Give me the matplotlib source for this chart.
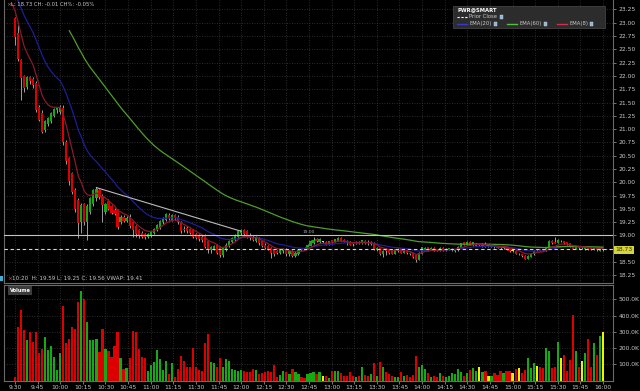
import numpy as np
import pandas as pd
import matplotlib
matplotlib.use('Agg')
import matplotlib.pyplot as plt
from matplotlib.lines import Line2D
from matplotlib.patches import Rectangle

# 2-minute bars, 9:30 -> 16:00
opens = [23.08, 22.80, 22.30, 21.99, 21.80, 21.98, 21.95, 21.87, 21.42, 21.30,
         20.98, 21.10, 21.15, 21.25, 21.35, 21.32, 21.40, 20.75, 20.45, 20.17,
         19.85, 19.66, 19.25, 19.60, 19.25, 19.45, 19.60, 19.70, 19.85, 19.75,
         19.45, 19.65, 19.55, 19.48, 19.47, 19.25, 19.35, 19.28, 19.35, 19.25,
         19.18, 19.10, 19.05, 19.02, 18.97, 19.00, 19.05, 19.10, 19.15, 19.25,
         19.30, 19.38, 19.30, 19.38, 19.35, 19.25, 19.12, 19.15, 19.12, 19.10,
         19.02, 19.00, 18.98, 19.00, 18.90, 18.72, 18.75, 18.82, 18.78, 18.63,
         18.72, 18.80, 18.88, 18.92, 18.98, 19.04, 19.10, 19.08, 19.00, 18.98,
         18.90, 18.95, 18.90, 18.82, 18.80, 18.76, 18.72, 18.70, 18.67, 18.70,
         18.74, 18.65, 18.70, 18.62, 18.66, 18.74, 18.76, 18.75, 18.81, 18.85,
         18.93, 18.88, 18.88, 18.88, 18.84, 18.91, 18.88, 18.90, 18.96, 18.92,
         18.90, 18.88, 18.87, 18.85, 18.88, 18.85, 18.90, 18.88, 18.84, 18.86,
         18.72, 18.76, 18.66, 18.74, 18.72, 18.71, 18.66, 18.70, 18.76, 18.68,
         18.72, 18.68, 18.67, 18.63, 18.54, 18.66, 18.72, 18.78, 18.73, 18.77,
         18.74, 18.71, 18.77, 18.72, 18.73, 18.72, 18.70, 18.72, 18.77, 18.87,
         18.83, 18.88, 18.82, 18.81, 18.82, 18.80, 18.84, 18.81, 18.79, 18.81,
         18.80, 18.80, 18.76, 18.79, 18.76, 18.71, 18.71, 18.65, 18.65, 18.62,
         18.56, 18.60, 18.65, 18.72, 18.74, 18.74, 18.72, 18.76, 18.90, 18.88,
         18.86, 18.89, 18.89, 18.87, 18.85, 18.82, 18.75, 18.79, 18.76, 18.74,
         18.78, 18.76, 18.73, 18.77, 18.71, 18.73]
highs = [23.10, 22.95, 22.32, 22.02, 22.00, 22.00, 21.98, 21.90, 21.45, 21.36,
         21.18, 21.22, 21.32, 21.40, 21.42, 21.46, 21.45, 20.80, 20.48, 20.20,
         19.90, 19.70, 19.62, 19.62, 19.60, 19.72, 19.88, 19.91, 19.88, 19.78,
         19.62, 19.68, 19.58, 19.52, 19.50, 19.38, 19.38, 19.36, 19.40, 19.28,
         19.20, 19.12, 19.08, 19.05, 19.05, 19.08, 19.15, 19.22, 19.30, 19.35,
         19.42, 19.42, 19.40, 19.40, 19.38, 19.28, 19.18, 19.18, 19.15, 19.12,
         19.05, 19.02, 19.00, 19.02, 18.92, 18.80, 18.82, 18.84, 18.80, 18.78,
         18.85, 18.92, 18.98, 19.02, 19.10, 19.12, 19.12, 19.10, 19.05, 19.00,
         18.99, 18.97, 18.92, 18.85, 18.82, 18.78, 18.74, 18.72, 18.74, 18.76,
         18.76, 18.72, 18.72, 18.70, 18.74, 18.76, 18.78, 18.84, 18.91, 18.97,
         18.95, 18.96, 18.90, 18.89, 18.90, 18.92, 18.94, 18.98, 18.97, 18.93,
         18.91, 18.89, 18.88, 18.89, 18.89, 18.92, 18.91, 18.91, 18.89, 18.87,
         18.78, 18.77, 18.72, 18.76, 18.74, 18.72, 18.75, 18.76, 18.77, 18.73,
         18.73, 18.69, 18.68, 18.64, 18.69, 18.79, 18.79, 18.79, 18.78, 18.78,
         18.75, 18.78, 18.78, 18.76, 18.77, 18.77, 18.75, 18.80, 18.86, 18.88,
         18.89, 18.89, 18.88, 18.86, 18.84, 18.85, 18.88, 18.83, 18.83, 18.82,
         18.81, 18.81, 18.81, 18.80, 18.77, 18.73, 18.72, 18.67, 18.66, 18.63,
         18.63, 18.67, 18.72, 18.74, 18.75, 18.75, 18.79, 18.91, 18.91, 18.98,
         18.93, 18.91, 18.90, 18.88, 18.86, 18.83, 18.80, 18.80, 18.78, 18.79,
         18.79, 18.77, 18.79, 18.78, 18.76, 18.75]
lows = [22.59, 22.28, 21.55, 21.70, 21.75, 21.85, 21.78, 21.33, 21.15, 20.92,
        20.95, 21.05, 21.12, 21.22, 21.30, 21.28, 20.70, 20.35, 19.95, 19.78,
        19.45, 18.95, 19.05, 19.20, 18.92, 19.40, 19.55, 19.65, 19.68, 19.25,
        19.40, 19.48, 19.40, 19.38, 19.12, 19.22, 19.25, 19.25, 19.15, 18.97,
        18.98, 18.96, 18.95, 18.94, 18.95, 18.98, 19.02, 19.08, 19.12, 19.22,
        19.28, 19.30, 19.28, 19.30, 19.22, 19.05, 19.06, 19.05, 19.02, 18.95,
        18.93, 18.90, 18.88, 18.76, 18.68, 18.68, 18.72, 18.66, 18.59, 18.60,
        18.70, 18.78, 18.85, 18.90, 18.96, 19.00, 19.00, 18.95, 18.92, 18.90,
        18.88, 18.82, 18.78, 18.74, 18.72, 18.57, 18.62, 18.66, 18.65, 18.68,
        18.62, 18.62, 18.60, 18.60, 18.64, 18.70, 18.72, 18.74, 18.80, 18.84,
        18.87, 18.86, 18.86, 18.82, 18.83, 18.86, 18.87, 18.89, 18.89, 18.87,
        18.82, 18.82, 18.81, 18.84, 18.84, 18.84, 18.84, 18.83, 18.83, 18.72,
        18.71, 18.63, 18.60, 18.64, 18.66, 18.65, 18.65, 18.69, 18.67, 18.67,
        18.66, 18.64, 18.58, 18.50, 18.53, 18.65, 18.71, 18.70, 18.72, 18.70,
        18.70, 18.70, 18.71, 18.71, 18.72, 18.70, 18.69, 18.71, 18.76, 18.82,
        18.82, 18.82, 18.81, 18.80, 18.80, 18.79, 18.79, 18.79, 18.78, 18.77,
        18.76, 18.75, 18.75, 18.73, 18.69, 18.69, 18.65, 18.63, 18.60, 18.55,
        18.55, 18.59, 18.64, 18.70, 18.70, 18.71, 18.71, 18.75, 18.84, 18.85,
        18.85, 18.87, 18.84, 18.83, 18.78, 18.74, 18.74, 18.75, 18.74, 18.73,
        18.72, 18.72, 18.72, 18.71, 18.70, 18.71]
closes = [22.74, 22.31, 21.97, 21.78, 21.98, 21.90, 21.82, 21.36, 21.17, 20.95,
          21.15, 21.20, 21.30, 21.38, 21.40, 21.42, 20.75, 20.40, 20.02, 19.82,
          19.50, 19.23, 19.58, 19.25, 19.55, 19.70, 19.85, 19.88, 19.72, 19.58,
          19.60, 19.50, 19.42, 19.40, 19.16, 19.35, 19.28, 19.33, 19.18, 19.10,
          19.02, 19.00, 18.98, 18.97, 19.02, 19.06, 19.12, 19.20, 19.28, 19.32,
          19.40, 19.32, 19.38, 19.33, 19.25, 19.08, 19.10, 19.08, 19.05, 18.98,
          18.96, 18.93, 18.92, 18.78, 18.72, 18.78, 18.80, 18.68, 18.63, 18.76,
          18.83, 18.90, 18.96, 19.00, 19.08, 19.10, 19.02, 18.98, 18.96, 18.92,
          18.97, 18.85, 18.80, 18.76, 18.74, 18.68, 18.65, 18.68, 18.72, 18.74,
          18.66, 18.70, 18.62, 18.68, 18.72, 18.72, 18.74, 18.82, 18.89, 18.91,
          18.89, 18.94, 18.88, 18.83, 18.89, 18.87, 18.93, 18.96, 18.90, 18.88,
          18.87, 18.83, 18.84, 18.88, 18.85, 18.91, 18.85, 18.86, 18.88, 18.74,
          18.76, 18.65, 18.71, 18.70, 18.68, 18.66, 18.74, 18.74, 18.68, 18.72,
          18.67, 18.66, 18.60, 18.54, 18.68, 18.78, 18.77, 18.72, 18.77, 18.71,
          18.71, 18.77, 18.72, 18.75, 18.76, 18.75, 18.74, 18.79, 18.85, 18.83,
          18.88, 18.83, 18.87, 18.84, 18.82, 18.84, 18.80, 18.81, 18.82, 18.78,
          18.77, 18.76, 18.80, 18.74, 18.70, 18.71, 18.66, 18.65, 18.61, 18.56,
          18.62, 18.66, 18.71, 18.72, 18.71, 18.72, 18.78, 18.90, 18.85, 18.86,
          18.91, 18.89, 18.85, 18.84, 18.79, 18.75, 18.79, 18.76, 18.76, 18.78,
          18.74, 18.73, 18.78, 18.72, 18.75, 18.73]
# volume in thousands of shares
volumes = [25, 332, 437, 314, 250, 297, 240, 297, 170, 195,
           270, 190, 215, 148, 68, 168, 461, 230, 256, 332,
           318, 482, 549, 502, 359, 250, 250, 256, 174, 318,
           195, 184, 144, 211, 297, 137, 72, 76, 139, 307,
           297, 195, 144, 139, 57, 98, 113, 190, 133, 66,
           123, 41, 107, 25, 72, 154, 119, 82, 82, 201,
           82, 66, 57, 230, 287, 113, 107, 82, 137, 82,
           133, 123, 72, 66, 62, 66, 62, 51, 51, 72,
           66, 41, 45, 51, 57, 51, 98, 25, 37, 62,
           51, 41, 72, 51, 41, 25, 16, 41, 45, 51,
           41, 51, 31, 31, 16, 62, 62, 57, 45, 31,
           31, 55, 31, 20, 31, 86, 37, 31, 41, 111,
           31, 117, 82, 51, 41, 31, 25, 25, 51, 31,
           37, 25, 37, 154, 86, 98, 72, 45, 25, 31,
           25, 45, 31, 25, 31, 45, 41, 72, 51, 31,
           45, 66, 78, 57, 82, 51, 62, 31, 31, 45,
           37, 62, 45, 62, 62, 45, 72, 78, 45, 66,
           139, 78, 107, 90, 82, 78, 201, 180, 78, 86,
           236, 139, 158, 57, 127, 406, 184, 86, 123, 168,
           256, 82, 230, 158, 277, 297]

prior_close = 18.74
last_price = 18.73
level_line = 19.00
trend_x = [27, 75]
trend_y = [19.90, 19.08]
ema_names = ['EMA(20)', 'EMA(60)', 'EMA(8)']
ema_periods = [20, 60, 8]
ema_seeds = [23.62, 24.20, 23.36]
ema_first_bar = [-1, 18, -1]
ema_colors = ['#1e1e96', '#4f9e2a', '#8a1a2c']
legend_colors = ['#3838d0', '#58c040', '#d03048']

price_ticks = [18.25, 18.50, 18.75, 19.00, 19.25, 19.50, 19.75, 20.00, 20.25, 20.50, 20.75,
               21.00, 21.25, 21.50, 21.75, 22.00, 22.25, 22.50, 22.75, 23.00, 23.25]
vol_ticks = [100, 200, 300, 400, 500]
time_labels = ['9:30', '9:45', '10:00', '10:15', '10:30', '10:45', '11:00', '11:15', '11:30',
               '11:45', '12:00', '12:15', '12:30', '12:45', '13:00', '13:15', '13:30', '13:45',
               '14:00', '14:15', '14:30', '14:45', '15:00', '15:15', '15:30', '15:45', '16:00']

W, H = 640, 391
def fx(px):
    return px / W
def fy(py):
    return 1 - py / H

RED, GREEN, YELLOW = '#dc0000', '#14aa14', '#f2f200'
GRID = '#3a3a3a'
TXT = '#c8c8c8'
FS = 4.3

fig = plt.figure(figsize=(6.4, 3.91), dpi=100, facecolor='black')
ax = fig.add_axes([fx(4), fy(283), (613 - 4) / W, 283 / H], facecolor='black')
axv = fig.add_axes([fx(4), fy(380.6), (613 - 4) / W, (380.6 - 285) / H], facecolor='black')

o, h, l, c = (np.array(a) for a in (opens, highs, lows, closes))
x = np.arange(len(c))
colors = np.where(c > o, GREEN, np.where(c < o, RED, YELLOW))

# candles
ax.vlines(x, l, h, color='#b8b8b8', linewidth=0.6, zorder=3)
ax.bar(x, np.maximum(np.abs(c - o), 0.01), bottom=np.minimum(o, c), width=0.72,
       color=colors, linewidth=0, zorder=4)

# moving averages
for period, seed, first, col in zip(ema_periods, ema_seeds, ema_first_bar, ema_colors):
    ema = pd.Series([seed] + closes).ewm(span=period, adjust=False).mean().to_numpy()
    xs = np.arange(-1, len(c))
    keep = xs >= first
    ax.plot(xs[keep], ema[keep], color=col, linewidth=0.9, zorder=5)

# reference lines
ax.axhline(level_line, color='#c4c4c4', linewidth=0.8, zorder=6)
ax.text(95.5, level_line + 0.03, '%.2f' % level_line, color='#a8a8a8', fontsize=3.2,
        ha='left', va='bottom', zorder=6)
ax.axhline(prior_close, color='#d8d8d8', linewidth=0.8, dashes=(3, 2.5), zorder=6)
ax.plot(trend_x, trend_y, color='#bcbcbc', linewidth=0.8, zorder=6)

# volume
axv.bar(x, np.array(volumes) * 1000, width=0.72, color=colors, linewidth=0)

xmin, xmax = -3.65, 198.3
for a in (ax, axv):
    a.set_xlim(xmin, xmax)
    a.set_xticks(np.linspace(0, 195, len(time_labels)))
    a.grid(True, color=GRID, linestyle=(0, (1, 2)), linewidth=0.6)
    a.set_axisbelow(True)
    a.yaxis.tick_right()
    a.tick_params(axis='y', colors='#8a8a8a', labelcolor=TXT, labelsize=FS,
                  length=2.5, width=0.6, pad=1.5)
    for s in a.spines.values():
        s.set_color('#6a6a6a')
        s.set_linewidth(0.8)
    a.spines['top'].set_visible(a is axv)

ax.set_ylim(18.107, 23.427)
ax.set_yticks(price_ticks)
ax.set_yticklabels(['' if t == 18.75 else '%.2f' % t for t in price_ticks])
ax.tick_params(axis='x', length=0, labelbottom=False)

axv.set_ylim(0, 588000)
axv.set_yticks([v * 1000 for v in vol_ticks])
axv.set_yticklabels(['%.1fK' % v for v in vol_ticks])
axv.set_xticklabels(time_labels)
axv.tick_params(axis='x', colors='#8a8a8a', labelcolor=TXT, labelsize=FS,
                length=2, width=0.6, pad=1)

# last price box on the axis
ax.text(1.004, last_price, '%.2f' % last_price, transform=ax.get_yaxis_transform(),
        fontsize=FS, color='#303000', ha='left', va='center', zorder=10,
        bbox=dict(boxstyle='square,pad=0.3', facecolor='#d4d43c', edgecolor='none'))

# header texts
fig.text(fx(6), fy(5), '×', color='#b06060', fontsize=FS, va='center')
fig.text(fx(11), fy(5), 'L: 18.73 CH: -0.01 CH%: -0.05%', color=TXT, fontsize=3.8, va='center')
fig.patches.append(Rectangle((0, fy(281)), fx(2.5), 5 / H, transform=fig.transFigure,
                             facecolor='#40b0d0', edgecolor='none'))
fig.text(fx(7.5), fy(279), '×', color='#b06060', fontsize=FS, va='center')
fig.text(fx(12), fy(279), '10:20  H: 19.59 L: 19.25 C: 19.56 VWAP: 19.41',
         color=TXT, fontsize=4.1, va='center')
fig.patches.append(Rectangle((fx(8), fy(295)), fx(24), 9 / H, transform=fig.transFigure,
                             facecolor='#3c3c3c', edgecolor='none'))
fig.text(fx(10), fy(290.5), 'Volume', color='white', fontsize=3.6, fontweight='bold', va='center')

# legend box
fig.patches.append(Rectangle((fx(453), fy(28)), fx(152), 22 / H, transform=fig.transFigure,
                             facecolor='#2c2c2c', edgecolor='#4a4a4a', linewidth=0.5))
def checkbox(px, py):
    fig.patches.append(Rectangle((fx(px), fy(py + 1.5)), fx(3), 3 / H, transform=fig.transFigure,
                                 facecolor='#8fb4dc', edgecolor='#d0d0d0', linewidth=0.3))

fig.text(fx(457), fy(10), 'PWR@SMART', color='white', fontsize=3.8, fontweight='bold', va='center')
fig.lines.append(Line2D([fx(457), fx(467)], [fy(17), fy(17)], transform=fig.transFigure,
                        color='white', linewidth=0.8, dashes=(2, 1.5)))
fig.text(fx(469), fy(17), 'Prior Close', color=TXT, fontsize=3.8, va='center')
checkbox(500, 17)
legend_x = [457, 507, 557]
for name, col, lx in zip(ema_names, legend_colors, legend_x):
    fig.lines.append(Line2D([fx(lx), fx(lx + 10)], [fy(24), fy(24)], transform=fig.transFigure,
                            color=col, linewidth=1.0))
    fig.text(fx(lx + 12), fy(24), name, color=TXT, fontsize=3.8, va='center')
    checkbox(lx + 37 if name != 'EMA(8)' else lx + 33, 24)

fig.savefig('out.png', dpi=100, facecolor='black')
